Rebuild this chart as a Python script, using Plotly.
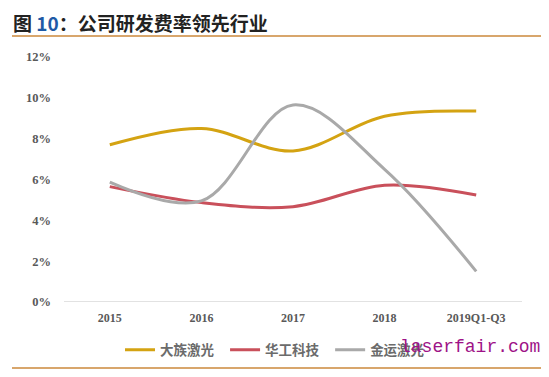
import plotly.graph_objects as go

categories = ["2015", "2016", "2017", "2018", "2019Q1-Q3"]
han_laser = [7.7, 8.5, 7.4, 9.1, 9.35]      # 大族激光
hgtech = [5.65, 4.87, 4.67, 5.72, 5.24]     # 华工科技
jinyun = [5.87, 4.95, 9.65, 6.5, 1.5]       # 金运激光
series_names = ["大族激光", "华工科技", "金运激光"]
colors = ["#D4A312", "#C9505B", "#A9A9A9"]
y_ticks = [0, 2, 4, 6, 8, 10, 12]
y_tick_labels = [f"<b>{v}%</b>" for v in y_ticks]
x_tick_labels = [f"<b>{c}</b>" for c in categories]

# page body has an 8px default margin; compensate so the figure lines up with the window
OFF = 8
W, H = 549 - OFF, 377 - OFF
L, R, T, B = 64 - OFF, 27, 57 - OFF, 75
PW, PH = W - L - R, H - T - B


def px(x):  # reference-window pixel -> paper
    return (x - OFF - L) / PW


def py(y):
    return (H - B - (y - OFF)) / PH


fig = go.Figure()
for name, vals, col in zip(series_names, [han_laser, hgtech, jinyun], colors):
    fig.add_trace(go.Scatter(
        x=categories, y=vals, name=f"<b>{name}</b>\u00a0\u00a0", mode="lines",
        line=dict(color=col, width=3, shape="spline", smoothing=1.0),
    ))

fig.update_layout(
    width=W, height=H,
    margin=dict(l=L, r=R, t=T, b=B, autoexpand=False),
    paper_bgcolor="white", plot_bgcolor="white",
    showlegend=True,
    legend=dict(orientation="h", x=px(120), y=py(350), xanchor="left", yanchor="middle",
                font=dict(family="Noto Sans CJK SC", size=13.5, color="#6B6B6B"),
                itemwidth=30, bgcolor="rgba(0,0,0,0)"),
    xaxis=dict(type="category", showgrid=False, zeroline=False, showline=False,
               ticks="", tickvals=categories, ticktext=x_tick_labels,
               tickfont=dict(family="Liberation Serif", size=12, color="#595959"),
               range=[-0.5, 4.5], ticklabelstandoff=7),
    yaxis=dict(range=[0, 12], tickvals=y_ticks, ticktext=y_tick_labels,
               showgrid=False, zeroline=False, showline=False, ticks="",
               tickfont=dict(family="Liberation Serif", size=12.5, color="#595959"),
               ticklabelstandoff=12),
)

# baseline (0%) axis line
fig.add_shape(type="line", xref="paper", yref="y", x0=0, x1=1, y0=0, y1=0,
              line=dict(color="#D9D9D9", width=1.5))
# title rules
fig.add_shape(type="line", xref="paper", yref="paper",
              x0=px(12), x1=px(545), y0=py(36), y1=py(36),
              line=dict(color="#D8A66C", width=2))
fig.add_shape(type="line", xref="paper", yref="paper",
              x0=px(12), x1=px(543), y0=py(368), y1=py(368),
              line=dict(color="#D8A66C", width=2))

# title
fig.add_annotation(xref="paper", yref="paper", x=px(12), y=py(22),
                   xanchor="left", yanchor="middle", showarrow=False, borderpad=0,
                   text="<b>图 <span style='color:#1F5AA6'>10</span>：公司研发费率领先行业</b>",
                   font=dict(family="Noto Sans CJK SC", size=19, color="#222222"))
# watermark
fig.add_annotation(xref="paper", yref="paper", x=px(398), y=py(347),
                   xanchor="left", yanchor="middle", showarrow=False,
                   text="laserfair.com",
                   font=dict(family="Liberation Mono", size=18, color="#9E1287"))

fig.write_html("out.html")
